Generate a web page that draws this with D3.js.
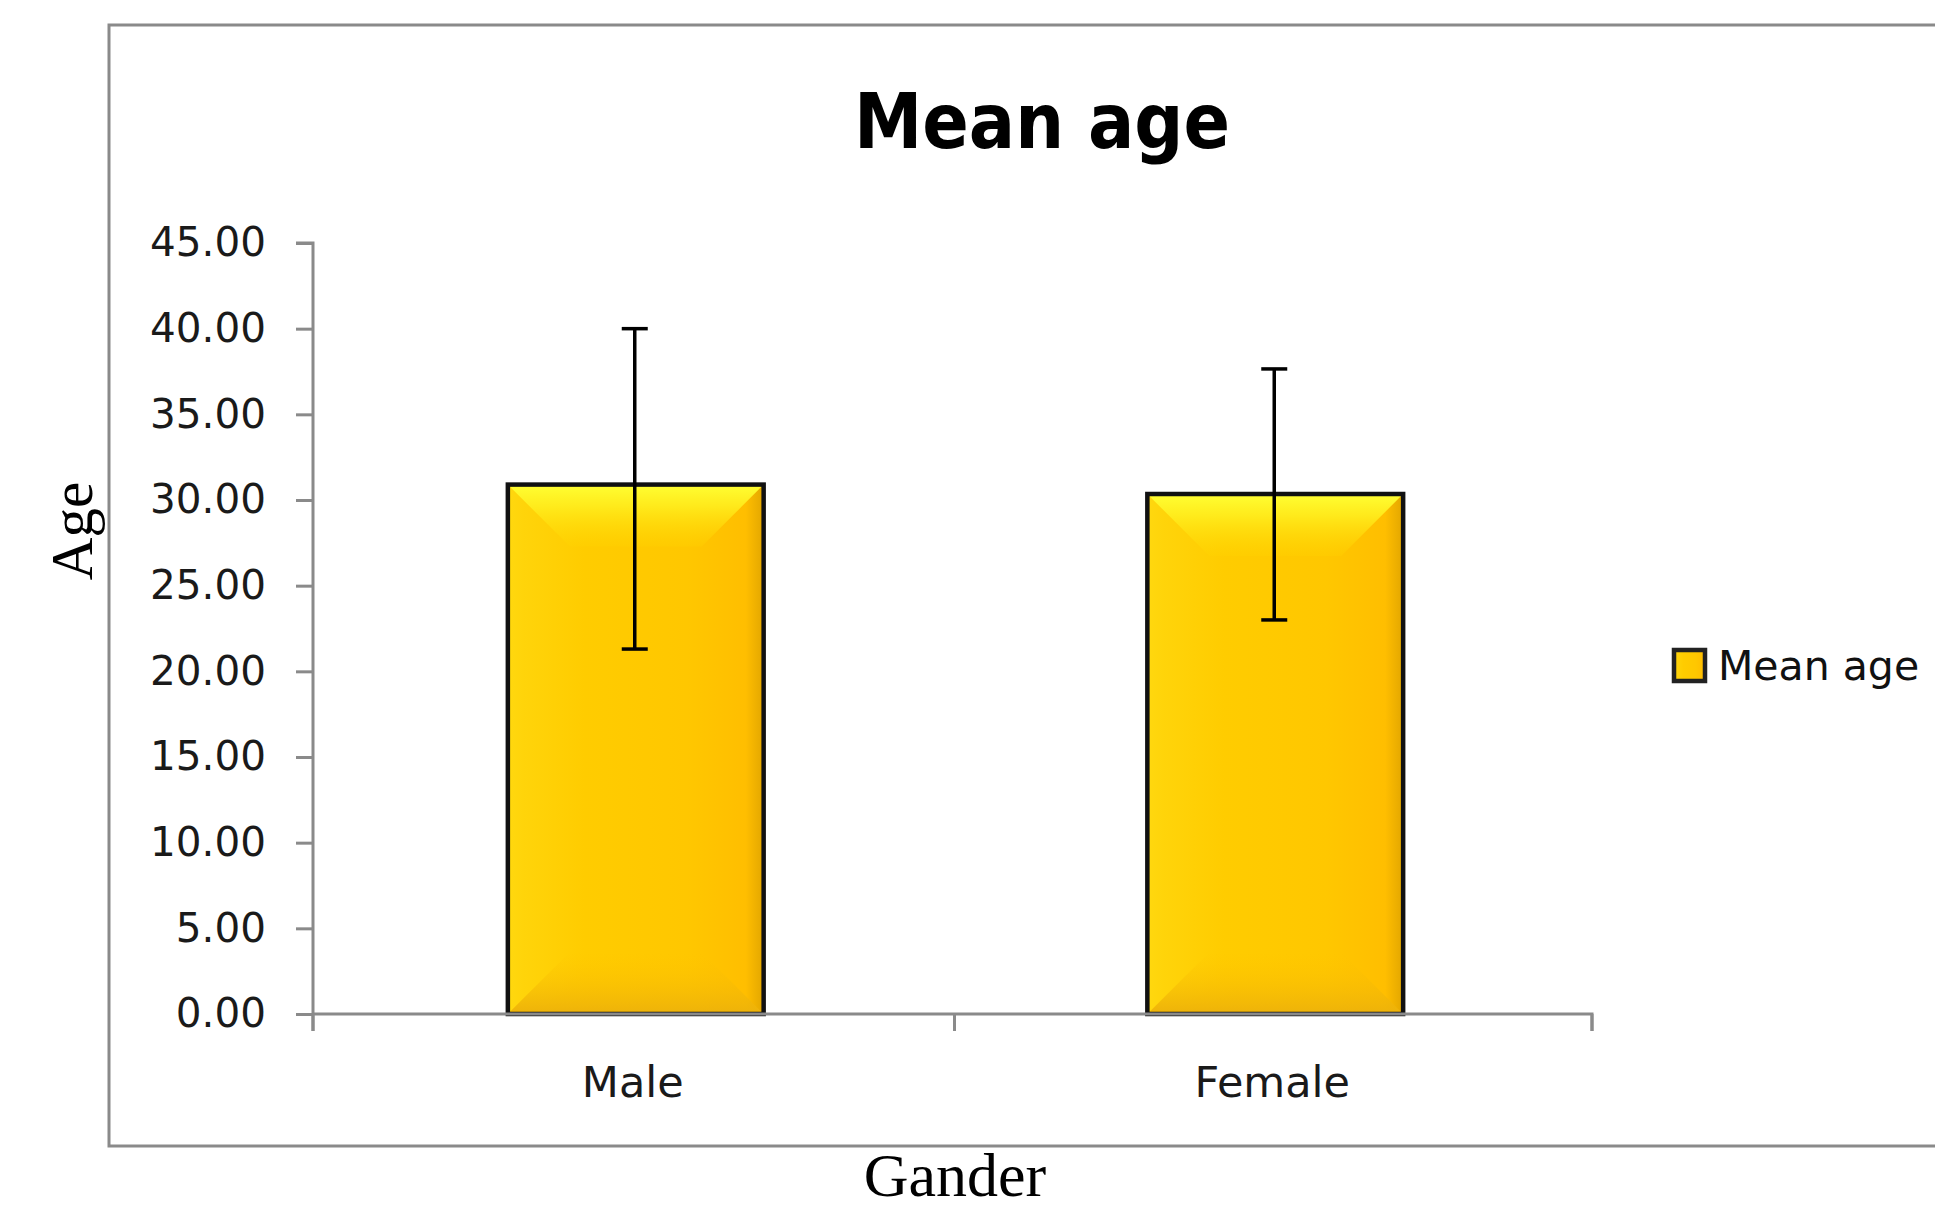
<!DOCTYPE html>
<html>
<head>
<meta charset="utf-8">
<script src="https://cdn.jsdelivr.net/npm/d3@7"></script>
<style>
  html, body { margin: 0; padding: 0; background: #fff; }
  svg { display: block; }
</style>
</head>
<body>
<svg id="chart" width="1935" height="1210"></svg>
<script>
// ---- data ----
const categories = ["Male", "Female"];
const meanAge = [30.9, 30.35];
const errUpper = [40.0, 37.65];
const errLower = [21.3, 23.0];
const yTicks = [0, 5, 10, 15, 20, 25, 30, 35, 40, 45];
const chartTitle = "Mean age";
const yTitle = "Age";
const xTitle = "Gander";
const legendLabel = "Mean age";

// ---- layout ----
const svg = d3.select("#chart");
const plot = { left: 313, right: 1592, top: 243, bottom: 1014 };
const barShift = 3;

const x = d3.scaleBand().domain(categories).range([plot.left, plot.right]).padding(0);
const y = d3.scaleLinear().domain([0, 45]).range([plot.bottom, plot.top]);
const barW = x.bandwidth() * 0.4;

// gradients
const defs = svg.append("defs");
const side = defs.append("linearGradient").attr("id", "sideGrad").attr("x1", 0).attr("x2", 1).attr("y1", 0).attr("y2", 0);
[[0, "#FFD80F"], [0.06, "#FFD40A"], [0.3, "#FFCC00"], [0.7, "#FFC700"], [0.93, "#FFBE00"], [1, "#E2A600"]]
  .forEach(([o, c]) => side.append("stop").attr("offset", o).attr("stop-color", c));
const topG = defs.append("linearGradient").attr("id", "topGrad").attr("x1", 0).attr("x2", 0).attr("y1", 0).attr("y2", 1);
[[0, "#FFFF33", 1], [0.35, "#FFF020", 0.85], [1, "#FFD500", 0.25]]
  .forEach(([o, c, a]) => topG.append("stop").attr("offset", o).attr("stop-color", c).attr("stop-opacity", a));
const botG = defs.append("linearGradient").attr("id", "botGrad").attr("x1", 0).attr("x2", 0).attr("y1", 0).attr("y2", 1);
[[0, "#FFC400", 0], [1, "#EDB20A", 1]]
  .forEach(([o, c, a]) => botG.append("stop").attr("offset", o).attr("stop-color", c).attr("stop-opacity", a));

// outer chart-area border
svg.append("rect")
  .attr("x", 109).attr("y", 25).attr("width", 1935).attr("height", 1121)
  .attr("fill", "none").attr("stroke", "#8a8a8a").attr("stroke-width", 3);

// title
svg.append("text")
  .attr("x", 1042).attr("y", 148)
  .attr("text-anchor", "middle")
  .attr("font-family", "DejaVu Sans")
  .attr("font-weight", "bold")
  .attr("font-size", 76)
  .attr("textLength", 376)
  .attr("lengthAdjust", "spacingAndGlyphs")
  .attr("fill", "#000")
  .text(chartTitle);

// y axis
const yAxis = d3.axisLeft(y).tickValues(yTicks).tickFormat(d3.format(".2f")).tickSize(17).tickPadding(30);
const gy = svg.append("g").attr("transform", `translate(${plot.left},0)`).call(yAxis);
gy.select(".domain").attr("stroke", "#8a8a8a").attr("stroke-width", 3)
  .attr("d", `M-17,${plot.top}H0V${plot.bottom + 17}`);
gy.selectAll(".tick line").attr("stroke", "#8a8a8a").attr("stroke-width", 3);
gy.selectAll(".tick text")
  .attr("font-family", "DejaVu Sans").attr("font-size", 40.5).attr("fill", "#1a1a1a");

// bars
const bars = svg.append("g");
categories.forEach((c, i) => {
  const cx = x(c) + x.bandwidth() / 2 + barShift;
  const x0 = cx - barW / 2, x1 = cx + barW / 2;
  const y0 = y(meanAge[i]), yb = y(0);
  const b = 62;
  const g = bars.append("g");
  g.append("rect").attr("x", x0).attr("y", y0).attr("width", barW).attr("height", yb - y0)
    .attr("fill", "url(#sideGrad)");
  g.append("polygon")
    .attr("points", [[x0, y0], [x1, y0], [x1 - b, y0 + b], [x0 + b, y0 + b]].map(p => p.join(",")).join(" "))
    .attr("fill", "url(#topGrad)");
  g.append("polygon")
    .attr("points", [[x0, yb], [x1, yb], [x1 - b, yb - b], [x0 + b, yb - b]].map(p => p.join(",")).join(" "))
    .attr("fill", "url(#botGrad)");
  g.append("rect").attr("x", x0).attr("y", y0).attr("width", barW).attr("height", yb - y0)
    .attr("fill", "none").attr("stroke", "#111").attr("stroke-width", 4.5);
});

// x axis
const xAxis = d3.axisBottom(x).tickSize(0).tickPadding(52);
const gx = svg.append("g").attr("transform", `translate(0,${plot.bottom})`).call(xAxis);
gx.select(".domain").attr("stroke", "#8a8a8a").attr("stroke-width", 3)
  .attr("d", `M${plot.left},0H${plot.right}V17`);
gx.selectAll(".tick text")
  .attr("font-family", "DejaVu Sans").attr("font-size", 43).attr("fill", "#1a1a1a");
// category boundary ticks
const bounds = [plot.left, ...categories.slice(1).map(c => x(c) + 2), plot.right];
gx.selectAll(".bound").data(bounds).enter().append("line")
  .attr("x1", d => d).attr("x2", d => d).attr("y1", 0).attr("y2", 17)
  .attr("stroke", "#8a8a8a").attr("stroke-width", 3);

// error bars
const eb = svg.append("g").attr("stroke", "#000").attr("stroke-width", 3.5);
categories.forEach((c, i) => {
  const cx = x(c) + x.bandwidth() / 2 + barShift - 1;
  eb.append("line").attr("x1", cx).attr("x2", cx).attr("y1", y(errUpper[i])).attr("y2", y(errLower[i]));
  eb.append("line").attr("x1", cx - 13).attr("x2", cx + 13).attr("y1", y(errUpper[i])).attr("y2", y(errUpper[i]));
  eb.append("line").attr("x1", cx - 13).attr("x2", cx + 13).attr("y1", y(errLower[i])).attr("y2", y(errLower[i]));
});

// axis titles
svg.append("text")
  .attr("transform", "translate(92,531) rotate(-90)")
  .attr("text-anchor", "middle")
  .attr("font-family", "Liberation Serif").attr("font-size", 59).attr("fill", "#000")
  .text(yTitle);
svg.append("text")
  .attr("x", 955).attr("y", 1196)
  .attr("text-anchor", "middle")
  .attr("font-family", "Liberation Serif").attr("font-size", 62).attr("fill", "#000")
  .text(xTitle);

// legend
const lg = svg.append("g").attr("transform", "translate(1674,650)");
lg.append("rect").attr("width", 31).attr("height", 31).attr("fill", "url(#sideGrad)")
  .attr("stroke", "#222").attr("stroke-width", 4.5);
lg.append("text").attr("x", 44).attr("y", 30)
  .attr("font-family", "DejaVu Sans").attr("font-size", 41).attr("fill", "#111")
  .text(legendLabel);
</script>
</body>
</html>
